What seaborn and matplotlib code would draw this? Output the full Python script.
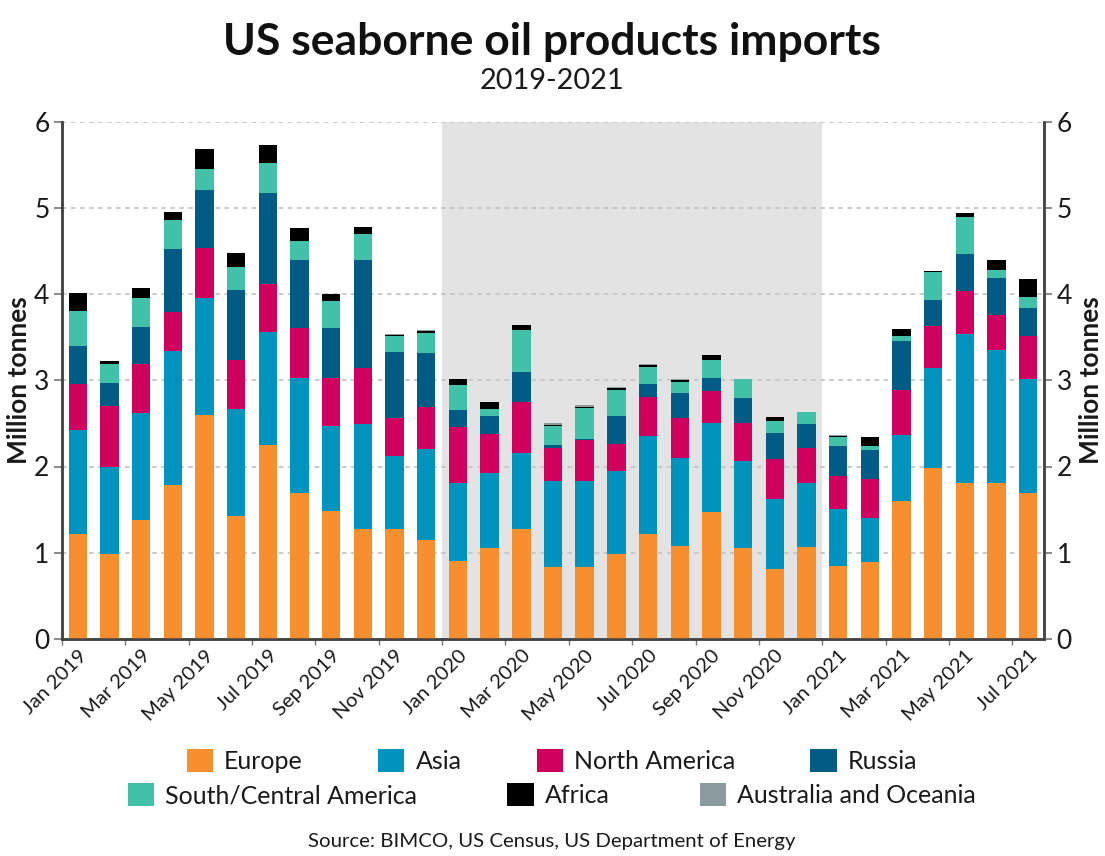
import matplotlib
matplotlib.use("Agg")
import matplotlib.pyplot as plt
from matplotlib.patches import Patch
import seaborn as sns
import numpy as np

years_months = [(2019, m) for m in range(12)] + [(2020, m) for m in range(12)] + [(2021, m) for m in range(7)]
month_names = ["Jan", "Feb", "Mar", "Apr", "May", "Jun", "Jul", "Aug", "Sep", "Oct", "Nov", "Dec"]
months = [f"{month_names[m]} {y}" for y, m in years_months]

europe = [1.22, 0.98, 1.38, 1.78, 2.60, 1.43, 2.25, 1.69, 1.48, 1.27, 1.28, 1.15,
          0.90, 1.06, 1.27, 0.84, 0.83, 0.99, 1.22, 1.08, 1.47, 1.06, 0.81, 1.07,
          0.85, 0.89, 1.60, 1.98, 1.81, 1.81, 1.69]
asia = [1.20, 1.02, 1.24, 1.56, 1.35, 1.24, 1.31, 1.34, 0.99, 1.22, 0.84, 1.05,
        0.91, 0.86, 0.89, 0.99, 1.00, 0.96, 1.13, 1.02, 1.04, 1.00, 0.81, 0.74,
        0.66, 0.51, 0.76, 1.16, 1.73, 1.54, 1.32]
north_america = [0.54, 0.70, 0.57, 0.45, 0.58, 0.56, 0.56, 0.58, 0.56, 0.65, 0.44, 0.49,
                 0.65, 0.46, 0.59, 0.38, 0.48, 0.31, 0.46, 0.46, 0.36, 0.45, 0.47, 0.40,
                 0.38, 0.46, 0.53, 0.49, 0.49, 0.41, 0.50]
russia = [0.44, 0.27, 0.43, 0.73, 0.68, 0.82, 1.05, 0.78, 0.58, 1.25, 0.77, 0.63,
          0.19, 0.21, 0.35, 0.04, 0.01, 0.33, 0.15, 0.29, 0.16, 0.28, 0.30, 0.28,
          0.35, 0.33, 0.57, 0.30, 0.43, 0.42, 0.33]
south_central = [0.40, 0.22, 0.33, 0.34, 0.24, 0.26, 0.35, 0.23, 0.31, 0.30, 0.18, 0.23,
                 0.29, 0.08, 0.48, 0.22, 0.36, 0.30, 0.19, 0.13, 0.21, 0.22, 0.14, 0.14,
                 0.10, 0.05, 0.05, 0.33, 0.43, 0.10, 0.13]
africa = [0.21, 0.03, 0.12, 0.09, 0.23, 0.16, 0.21, 0.14, 0.08, 0.09, 0.01, 0.02,
          0.08, 0.08, 0.06, 0.01, 0.01, 0.02, 0.03, 0.02, 0.05, 0.00, 0.04, 0.00,
          0.01, 0.10, 0.08, 0.01, 0.05, 0.11, 0.20]
australia = [0.00, 0.00, 0.00, 0.00, 0.00, 0.00, 0.00, 0.00, 0.00, 0.00, 0.02, 0.01,
             0.00, 0.00, 0.00, 0.03, 0.02, 0.01, 0.01, 0.01, 0.00, 0.00, 0.00, 0.00,
             0.01, 0.00, 0.00, 0.00, 0.00, 0.00, 0.00]

series = [("Europe", europe, "#F78F2E"),
          ("Asia", asia, "#0093BE"),
          ("North America", north_america, "#CF005E"),
          ("Russia", russia, "#005B85"),
          ("South/Central America", south_central, "#41C1A8"),
          ("Africa", africa, "#000000"),
          ("Australia and Oceania", australia, "#8C9C9C")]

sns.set_theme(style="white")
plt.rcParams["font.family"] = ["Lato", "DejaVu Sans"]
text_color = "#1a1a1a"

W, H = 1105, 856
fig = plt.figure(figsize=(W / 100, H / 100), dpi=100)
ax = fig.add_axes([62 / W, 1 - 639 / H, (1044 - 62) / W, (639 - 121.5) / H])

ax.set_axisbelow(True)
ax.axvspan(11.5, 23.5, color="#E3E3E3", lw=0, zorder=0)
ax.grid(axis="y", color="#C6C6C6", linestyle=(0, (2.5, 2.5)), linewidth=1.3, zorder=1)

bottom = np.zeros(len(months))
for name, vals, col in series:
    sns.barplot(x=months, y=vals, bottom=bottom, color=col, saturation=1,
                width=0.58, order=months, ax=ax, zorder=3, linewidth=0, edgecolor="none")
    bottom = bottom + np.array(vals)

ax.set_xlim(-0.5, 30.5)
ax.set_ylim(0, 6)
tick_pos = np.arange(0, 31, 2) - 0.5
ax.set_xticks(tick_pos)
ax.set_xticklabels([])
# labels sit a bit right of their ticks in the original
for pos, lab in zip(tick_pos, months[::2]):
    ax.annotate(lab, xy=(pos, 0), xycoords=("data", "axes fraction"), xytext=(16, -8),
                textcoords="offset pixels", rotation=45, ha="right", va="top",
                rotation_mode="anchor", fontsize=14.6, color=text_color)
ax.set_yticks(range(7))
ax.tick_params(axis="y", labelsize=19, labelcolor=text_color, length=6, width=1.2, color="#777777", pad=3)
ax.tick_params(axis="x", length=4, width=1, color="#777777", pad=4, bottom=True)
ax.set_ylabel("Million tonnes", fontsize=19, fontweight="bold", color=text_color, labelpad=2)
ax.set_xlabel("")

ax2 = ax.twinx()
ax2.set_ylim(0, 6)
ax2.set_yticks(range(7))
ax2.tick_params(axis="y", labelsize=19, labelcolor=text_color, length=6, width=1.2, color="#777777", pad=3, right=True)
ax2.set_ylabel("Million tonnes", fontsize=19, fontweight="bold", color=text_color, labelpad=5)
ax2.grid(False)

for a in (ax, ax2):
    a.spines["top"].set_visible(False)
    a.spines["left"].set_color("#444444")
    a.spines["right"].set_color("#444444")
    a.spines["bottom"].set_color("#444444")
    a.spines["left"].set_linewidth(1.8)
    a.spines["right"].set_linewidth(1.8)
    a.spines["bottom"].set_linewidth(1.8)

fig.text(552 / W, 1 - 42 / H, "US seaborne oil products imports", ha="center", va="center",
         fontsize=32, fontweight="bold", color="#111111")
fig.text(552 / W, 1 - 81 / H, "2019-2021", ha="center", va="center", fontsize=20.8, color=text_color)
fig.text(552 / W, 1 - 841 / H, "Source: BIMCO, US Census, US Department of Energy", ha="center", va="center",
         fontsize=14.7, color=text_color)

handles = [Patch(facecolor=c, edgecolor="none", label=n) for n, _, c in series]
leg_kw = dict(frameon=False, fontsize=18, handlelength=1.05, handleheight=1.05, handletextpad=0.45,
              labelcolor=text_color, borderpad=0, borderaxespad=0, loc="center")
leg1 = fig.legend(handles=handles[:4], ncol=4, columnspacing=3.0,
                  bbox_to_anchor=(552 / W, 1 - 761 / H), **leg_kw)
leg2 = fig.legend(handles=handles[4:], ncol=3, columnspacing=3.6,
                  bbox_to_anchor=(552 / W, 1 - 795 / H), **leg_kw)

plt.savefig("out.png", dpi=100)
